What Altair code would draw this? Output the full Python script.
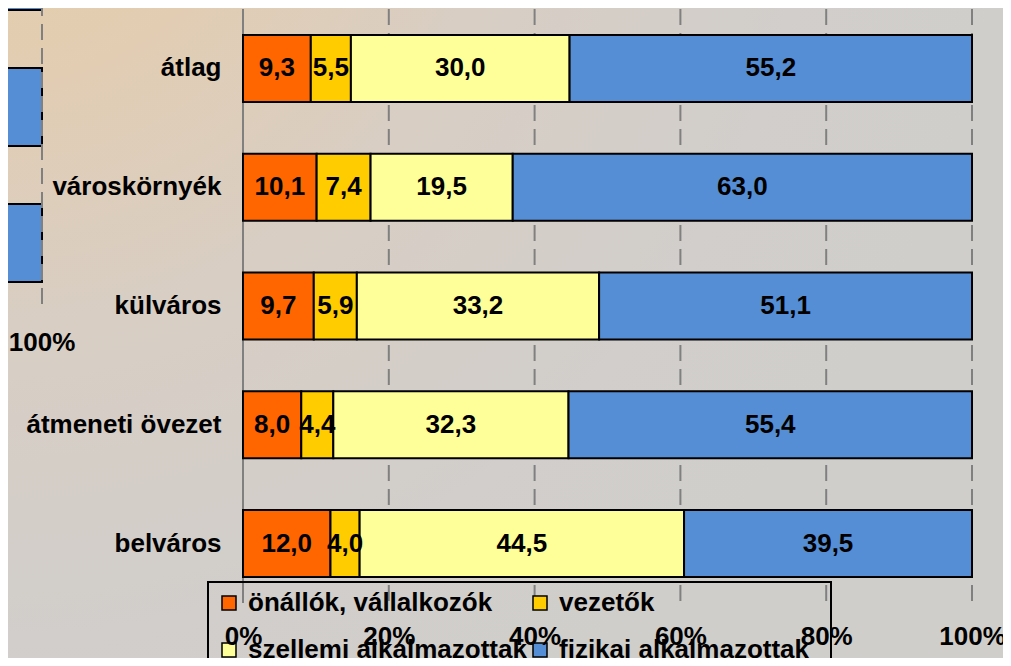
import altair as alt
import pandas as pd

FONT = "Liberation Sans"

categories = ["átlag", "városkörnyék", "külváros", "átmeneti övezet", "belváros"]
series = ["önállók, vállalkozók", "vezetők", "szellemi alkalmazottak", "fizikai alkalmazottak"]
onallok = [9.3, 10.1, 9.7, 8.0, 12.0]
vezetok = [5.5, 7.4, 5.9, 4.4, 4.0]
szellemi = [30.0, 19.5, 33.2, 32.3, 44.5]
fizikai = [55.2, 63.0, 51.1, 55.4, 39.5]
colors = ["#FF6600", "#FFCC00", "#FFFF99", "#558ED5"]
x_ticks = [0.0, 0.2, 0.4, 0.6, 0.8, 1.0]

# right edge of the neighbouring chart, visible at the left border
frag_rows = ["f1", "f2", "f3"]
frag_end = [1.0, 1.0, 1.0]
frag_label = ["100%"]

rows = []
for i, c in enumerate(categories):
    vals = [onallok[i], vezetok[i], szellemi[i], fizikai[i]]
    tot = sum(vals)
    cum = 0.0
    for j, s in enumerate(series):
        v = vals[j]
        rows.append(dict(cat=c, series=s, order=j, value=v,
                         start=cum / tot, end=(cum + v) / tot,
                         mid=(cum + v / 2) / tot,
                         label=f"{v:.1f}".replace(".", ",")))
        cum += v
df = pd.DataFrame(rows)


def xe(field):
    return alt.X(field, type="quantitative",
                 scale=alt.Scale(domain=[0, 1], nice=False),
                 axis=alt.Axis(title=None, orient="bottom", values=x_ticks, format=".0%",
                               grid=False, domain=False, ticks=False, tickSize=0,
                               labelPadding=20, labelFont=FONT, labelFontSize=26,
                               labelFontWeight="bold", labelColor="black",
                               labelFlush=False, labelOverlap=False, zindex=1))


def ye():
    return alt.Y("cat:N", sort=categories,
                 scale=alt.Scale(domain=categories, paddingInner=0.436, paddingOuter=0.218),
                 axis=alt.Axis(title=None, orient="left", labelFont=FONT, labelFontSize=26,
                               labelFontWeight="bold", labelColor="black", labelPadding=22,
                               ticks=False, tickSize=0, domain=False, zindex=1, labelLimit=400))


axis_line = alt.Chart(pd.DataFrame({"start": x_ticks[:1]})).mark_rule(
    color="#808080", strokeWidth=2).encode(x=xe("start"))
grid = alt.Chart(pd.DataFrame({"start": x_ticks[1:]})).mark_rule(
    color="#808080", strokeWidth=2, strokeDash=[16, 8]).encode(x=xe("start"))

bars = alt.Chart(df).mark_bar(stroke="black", strokeWidth=2).encode(
    x=xe("start"), x2="end:Q", y=ye(),
    color=alt.Color("series:N", sort=series,
                    scale=alt.Scale(domain=series, range=colors),
                    legend=alt.Legend(orient="none", legendX=-35, legendY=573, columns=2,
                                      direction="horizontal",
                                      title="\u00a0", titleOrient="right", titlePadding=14,
                                      titleFont=FONT, titleFontSize=26,
                                      symbolType="square", symbolSize=196,
                                      symbolStrokeColor="black", symbolStrokeWidth=1.5,
                                      symbolOpacity=1, labelFont=FONT, labelFontSize=26,
                                      labelFontWeight="bold", labelColor="black",
                                      labelOffset=6, columnPadding=0, rowPadding=21,
                                      padding=8, strokeColor="black", labelLimit=600)),
    order="order:Q")

labels = alt.Chart(df).mark_text(font=FONT, fontSize=26, fontWeight="bold", color="black",
                                 align="center", baseline="middle").encode(
    x=xe("mid"), y=ye(), text="label:N")

main = alt.layer(axis_line, grid, bars, labels)

fx = alt.X("v:Q", scale=alt.Scale(domain=[0, 1], range=[-930, -201], nice=False), axis=None)
fy = alt.Y("r:N", scale=alt.Scale(domain=frag_rows, range=[-77, 273],
                                  paddingInner=0.426, paddingOuter=0), axis=None)
fdf = pd.DataFrame({"r": frag_rows, "v": frag_end})
fbars = alt.Chart(fdf).mark_bar(color="#558ED5", stroke="black", strokeWidth=2).encode(x=fx, y=fy)
frule = alt.Chart(pd.DataFrame({"v": frag_end[:1]})).mark_rule(
    color="#808080", strokeWidth=2, strokeDash=[16, 8]).encode(
    x=fx, y=alt.value(-9), y2=alt.value(303))
ftext = alt.Chart(pd.DataFrame({"v": frag_end[:1], "label": frag_label})).mark_text(
    font=FONT, fontSize=26, fontWeight="bold", color="black", align="center",
    baseline="middle").encode(x=fx, y=alt.value(334), text="label:N")
frag = alt.layer(fbars, frule, ftext)

gradient = {
    "gradient": "radial", "x1": 0, "y1": 0, "r1": 0, "x2": 0, "y2": 0, "r2": 1,
    "stops": [
        {"offset": 0, "color": "#e8cea6"},
        {"offset": 0.25, "color": "#e2cdb3"},
        {"offset": 0.5, "color": "#d8cec4"},
        {"offset": 0.8, "color": "#d1cecb"},
        {"offset": 1, "color": "#d0cecb"},
    ],
}
bg = alt.Chart(pd.DataFrame({"a": [0]})).mark_rect(fill=gradient).encode(
    x=alt.value(-243), x2=alt.value(768), y=alt.value(-9), y2=alt.value(657))

chart = alt.layer(bg, main, frag).resolve_scale(
    x="independent", y="independent"
).properties(
    width=729, height=594,
    autosize=alt.AutoSizeParams(type="none"),
    padding={"left": 235, "top": 1, "right": 31, "bottom": 55},
).configure(background="#d0cecb").configure_view(stroke=None).configure_legend(strokeWidth=2)

chart.save("out.html", embed_options={"renderer": "svg", "actions": False})
